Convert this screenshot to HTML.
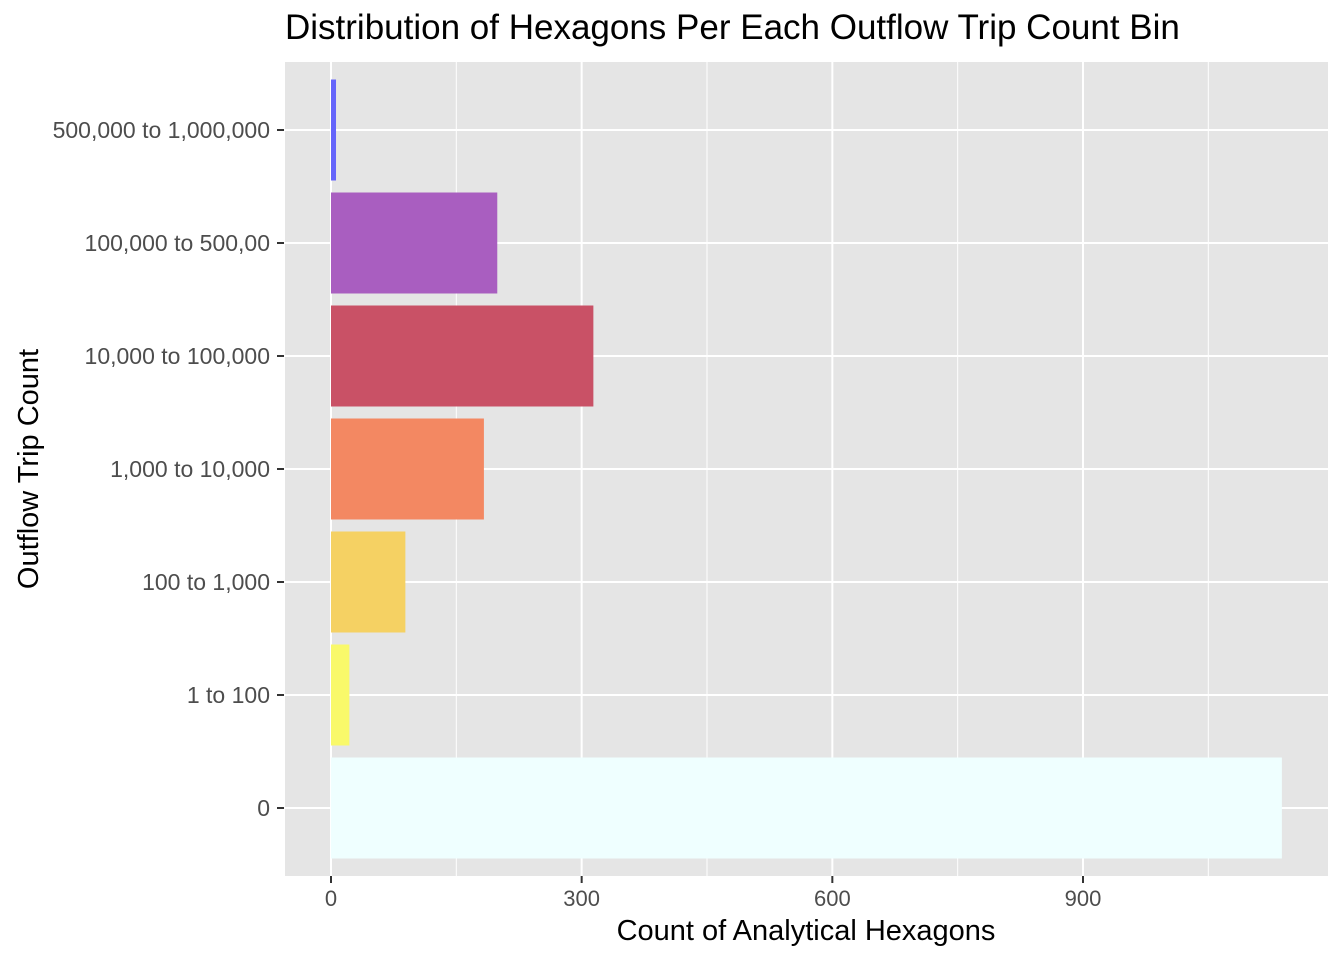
<!DOCTYPE html>
<html><head><meta charset="utf-8"><style>
body{margin:0;background:#fff;}
svg{display:block;font-family:"Liberation Sans",Arial,sans-serif;}
</style></head><body>
<svg id="chart" width="1344" height="960">
<text x="285" y="39" font-size="35" fill="#000">Distribution of Hexagons Per Each Outflow Trip Count Bin</text>
<rect x="285" y="62" width="1043" height="814" fill="#e5e5e5"/>
<g id="grid"></g>
<g id="bars"></g>
<g id="axes"></g>
<text x="806" y="940" font-size="29" text-anchor="middle" fill="#000">Count of Analytical Hexagons</text>
<text transform="translate(38,469) rotate(-90)" font-size="29" text-anchor="middle" fill="#000">Outflow Trip Count</text>
</svg>
<script>
const categories=["500,000 to 1,000,000","100,000 to 500,00","10,000 to 100,000","1,000 to 10,000","100 to 1,000","1 to 100","0"];
const values=[6,199,314,183,89,22,1138];
const colors=["#6565fb","#a95ec0","#c95166","#f38862","#f5d163","#f9f96a","#efffff"];
const xTicks=[0,300,600,900];
const xMinor=[150,450,750,1050];
const ns="http://www.w3.org/2000/svg";
const x=v=>331+v*(1083-331)/900;
const step=113, y0=130;
const y=i=>y0+i*step;
function mk(tag,attrs,parent){const e=document.createElementNS(ns,tag);for(const k in attrs)e.setAttribute(k,attrs[k]);document.getElementById(parent).appendChild(e);return e;}
xMinor.forEach(v=>{const l=mk('line',{x1:x(v),x2:x(v),y1:62,y2:876,stroke:'#fff','stroke-width':1},'grid');

});
xTicks.forEach(v=>{const l=mk('line',{x1:x(v),x2:x(v),y1:62,y2:876,stroke:'#fff','stroke-width':2},'grid');


const t=mk('line',{x1:x(v),x2:x(v),y1:876,y2:883,stroke:'#333','stroke-width':2},'axes');


const tx=mk('text',{x:x(v),y:906,'font-size':22,'text-anchor':'middle',fill:'#4d4d4d'},'axes');tx.textContent=v;

});
categories.forEach((c,i)=>{const l=mk('line',{x1:285,x2:1328,y1:y(i),y2:y(i),stroke:'#fff','stroke-width':2},'grid');


const b=mk('rect',{x:x(0),y:y(i)-50.5,width:x(values[i])-x(0),height:101,fill:colors[i]},'bars');


const t=mk('line',{x1:277,x2:284,y1:y(i),y2:y(i),stroke:'#333','stroke-width':2},'axes');


const tx=mk('text',{x:270,y:y(i)+8,'font-size':23,'text-anchor':'end',fill:'#4d4d4d'},'axes');tx.textContent=c;

});
</script>
</body></html>
